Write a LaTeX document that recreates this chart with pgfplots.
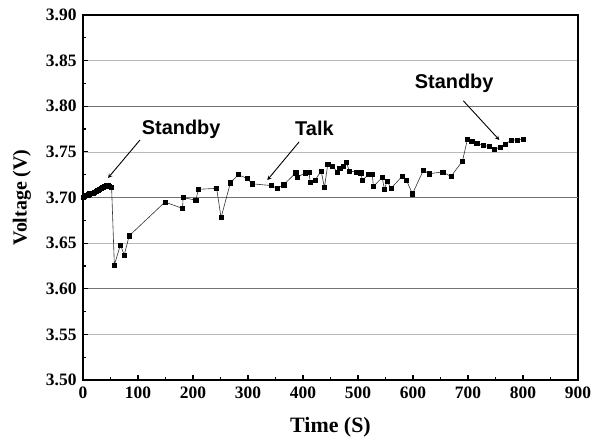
\documentclass[border=0pt]{standalone}
\usepackage{pgfplots}
\pgfplotsset{compat=1.18}
\usepackage{fontspec}
\setmainfont{Liberation Serif}
\newfontfamily\arialfont{Liberation Sans}
\begin{document}
\begin{tikzpicture}
\begin{axis}[
  scale only axis,
  width=495bp, height=365bp,
  xmin=0, xmax=900, ymin=3.50, ymax=3.90,
  xtick={0,100,...,900},
  ytick={3.50,3.55,...,3.90},
  minor x tick num=1, minor y tick num=1,
  tick align=inside,
  major tick length=5bp, minor tick length=3bp,
  xtick pos=left, ytick pos=left,
  axis line style={line width=2bp},
  every tick/.style={black, line width=1.2bp},
  /pgf/number format/assume math mode=true,
  yticklabel style={/pgf/number format/fixed, /pgf/number format/fixed zerofill, /pgf/number format/precision=2, xshift=-3bp},
  ticklabel style={font=\bfseries\fontsize{17.5}{17.5}\selectfont},
  xticklabel style={yshift=-3bp},
  ymajorgrids,
  major grid style={gray!55, line width=0.7bp},
  extra y ticks={3.60,3.70,3.80},
  extra y tick labels={},
  extra y tick style={grid=major, major grid style={gray!90!black, line width=0.7bp}},
  xlabel={Time (S)},
  ylabel={Voltage (V)},
  xlabel style={font=\bfseries\fontsize{22}{22}\selectfont, yshift=-12bp},
  ylabel style={font=\bfseries\fontsize{20}{20}\selectfont, yshift=8bp},
  clip=false,
]
\addplot[gray!40!black, line width=0.6bp, mark=square*, mark size=2.1bp, mark options={black, fill=black}] coordinates {
(0,3.700) (3,3.701) (6,3.702) (9,3.703) (12,3.704) (15,3.705) (18,3.705)
(21,3.706) (24,3.707) (27,3.708) (30,3.709) (33,3.710) (36,3.711) (39,3.712)
(42,3.713) (45,3.713) (48,3.712) (52,3.711) (57,3.626) (68,3.648) (75,3.637)
(84,3.658) (149,3.695) (181,3.688) (182,3.700) (205,3.697) (210,3.709)
(243,3.710) (251,3.678) (268,3.716) (282,3.725) (298,3.721) (308,3.715)
(343,3.713) (353,3.710) (365,3.714) (387,3.727) (389,3.722) (404,3.727)
(411,3.728) (413,3.717) (422,3.719) (433,3.729) (439,3.711) (445,3.736)
(453,3.734) (463,3.728) (467,3.732) (473,3.734) (479,3.739) (484,3.729)
(497,3.728) (505,3.727) (508,3.719) (519,3.725) (526,3.725) (528,3.712)
(544,3.722) (548,3.709) (553,3.718) (560,3.710) (580,3.723) (588,3.719)
(599,3.704) (619,3.730) (629,3.726) (654,3.728) (669,3.723) (690,3.740)
(699,3.764) (707,3.762) (716,3.759) (728,3.757) (738,3.756) (748,3.753)
(758,3.755) (768,3.758) (778,3.763) (790,3.763) (801,3.764)
};
\node[anchor=base west, inner sep=0pt, font=\arialfont\bfseries\fontsize{20}{20}\selectfont] at (axis cs:106.6,3.7685) {Standby};
\node[anchor=base west, inner sep=0pt, font=\arialfont\bfseries\fontsize{20}{20}\selectfont] at (axis cs:385.5,3.7674) {Talk};
\node[anchor=base west, inner sep=0pt, font=\arialfont\bfseries\fontsize{20}{20}\selectfont] at (axis cs:603,3.8197) {Standby};
\draw[-stealth, line width=0.9bp] (axis cs:103.6,3.763) -- (axis cs:45.5,3.7214);
\draw[-stealth, line width=0.9bp] (axis cs:393,3.761) -- (axis cs:335,3.719);
\draw[-stealth, line width=0.9bp] (axis cs:691.5,3.806) -- (axis cs:757,3.763);
\end{axis}
\pgfresetboundingbox
\path[use as bounding box] (current axis.south west) ++(-83bp,-62bp) rectangle ([xshift=24bp,yshift=15bp]current axis.north east);
\end{tikzpicture}
\end{document}
